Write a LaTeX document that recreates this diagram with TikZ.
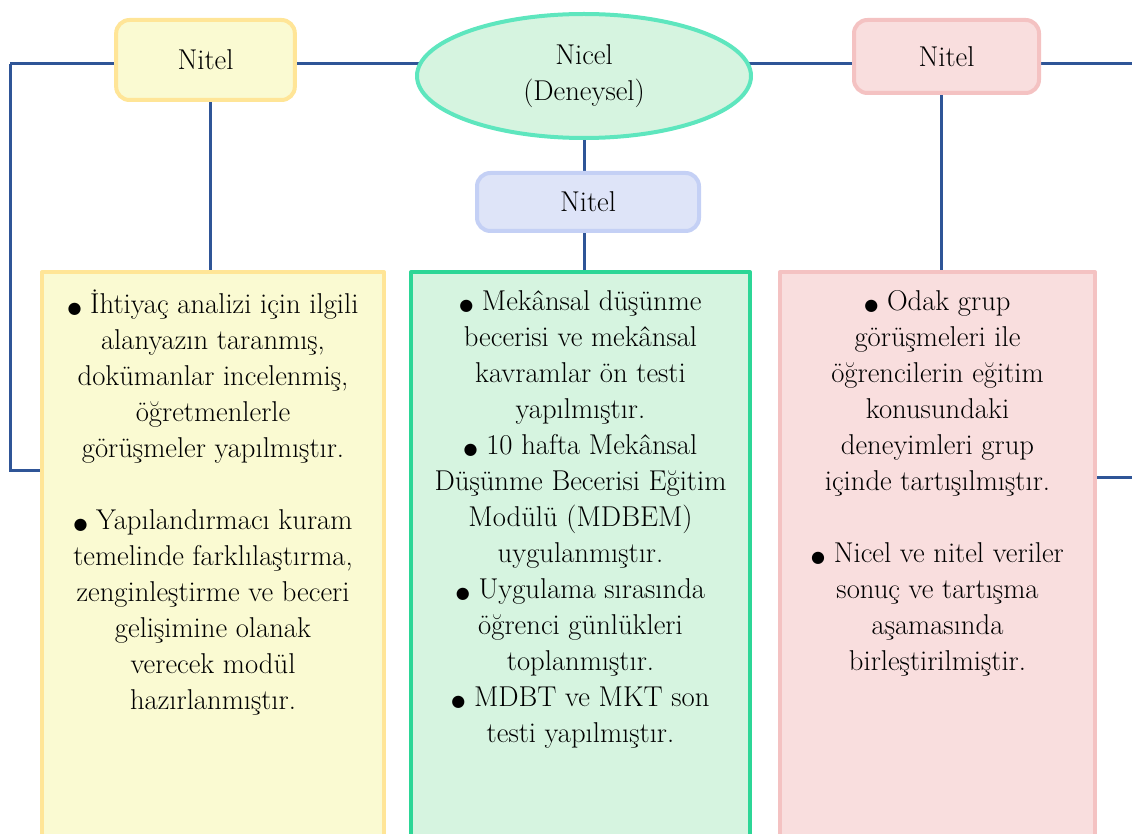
\documentclass[tikz,border=0pt]{standalone}
\usepackage{fontspec}
\newfontfamily\symfont{DejaVu Sans}
\usetikzlibrary{shapes.geometric,backgrounds}
\definecolor{linkblue}{RGB}{47,85,151}
\definecolor{ylfill}{RGB}{250,250,210}
\definecolor{ylline}{RGB}{255,229,151}
\definecolor{grfill}{RGB}{214,244,224}
\definecolor{grline}{RGB}{44,214,150}
\definecolor{elline}{RGB}{94,230,190}
\definecolor{pkfill}{RGB}{249,222,222}
\definecolor{pkline}{RGB}{244,194,194}
\definecolor{lvfill}{RGB}{222,228,248}
\definecolor{lvline}{RGB}{196,208,245}
\newcommand{\blt}{{\symfont\fontsize{12}{12}\selectfont ●}}
\tikzset{
  every picture/.style={line join=round, line cap=round},
  link/.style={draw=linkblue, line width=2.25pt},
  topbox/.style={rectangle, rounded corners=10pt, line width=3pt, inner sep=0pt,
    font=\fontsize{21.5}{27}\selectfont, align=center},
  bigbox/.style={rectangle, line width=3pt, inner sep=0pt, minimum height=433.5pt},
  bodytext/.style={anchor=north, inner sep=0pt, align=center, font=\fontsize{21.5}{27}\selectfont},
}

\begin{document}
\begin{tikzpicture}[x=0.75pt,y=-0.75pt]
\useasboundingbox (0,0) rectangle (1132,834);
\node[topbox, fill=ylfill, draw=ylline, minimum width=134pt, minimum height=60pt] (nitelA) at (205.5,60) {Nitel};
\node[topbox, ellipse, sharp corners, fill=grfill, draw=elline, minimum width=250.5pt, minimum height=93pt] (nicel) at (584,76) {Nicel\\(Deneysel)};
\node[topbox, fill=pkfill, draw=pkline, minimum width=138.75pt, minimum height=54.75pt] (nitelC) at (946.5,56.5) {Nitel};
\node[topbox, fill=lvfill, draw=lvline, minimum width=166.5pt, minimum height=43.5pt] (nitelB) at (588,202) {Nitel};
\node[bigbox, fill=ylfill, draw=ylline, minimum width=256.5pt] (ybox) at (213,561) {};
\node[bigbox, fill=grfill, draw=grline, minimum width=254.25pt] (gbox) at (580.5,561) {};
\node[bigbox, fill=pkfill, draw=pkline, minimum width=236.25pt] (pbox) at (937.5,561) {};
\coordinate (lc) at (10,64);
\coordinate (rc) at (1132,64);
\coordinate (lb) at (10,470);
\coordinate (rb) at (1132,477);
\coordinate (ya) at ([xshift=3.5pt]nitelA.south);
\coordinate (pa) at ([xshift=-4pt]nitelC.south);
\begin{scope}[on background layer]
\draw[link] (lc) -- (rc);
\draw[link] (lc) -- (lb) -- (lb -| ybox.west);
\draw[link] (rb -| pbox.east) -- (rb);
\draw[link] (ya) -- (ya |- ybox.north);
\draw[link] (nicel.south) -- (nicel.south |- nitelB.north);
\draw[link] (nicel.south |- nitelB.south) -- (nicel.south |- gbox.north);
\draw[link] (pa) -- (pa |- pbox.north);
\end{scope}
\node[bodytext] (ytext) at ([yshift=-15pt]ybox.north) {\blt{} İhtiyaç analizi için ilgili\\alanyazın taranmış,\\dokümanlar incelenmiş,\\öğretmenlerle\\görüşmeler yapılmıştır.\\[27pt]\blt{} Yapılandırmacı kuram\\temelinde farklılaştırma,\\zenginleştirme ve beceri\\gelişimine olanak\\verecek modül\\hazırlanmıştır.};
\node[bodytext] (gtext) at ([yshift=-15pt]gbox.north) {\blt{} Mekânsal düşünme\\becerisi ve mekânsal\\kavramlar ön testi\\yapılmıştır.\\\blt{} 10 hafta Mekânsal\\Düşünme Becerisi Eğitim\\Modülü (MDBEM)\\uygulanmıştır.\\\blt{} Uygulama sırasında\\öğrenci günlükleri\\toplanmıştır.\\\blt{} MDBT ve MKT son\\testi yapılmıştır.};
\node[bodytext] (ptext) at ([yshift=-15pt]pbox.north) {\blt{} Odak grup\\görüşmeleri ile\\öğrencilerin eğitim\\konusundaki\\deneyimleri grup\\içinde tartışılmıştır.\\[27pt]\blt{} Nicel ve nitel veriler\\sonuç ve tartışma\\aşamasında\\birleştirilmiştir.};
\end{tikzpicture}
\end{document}
